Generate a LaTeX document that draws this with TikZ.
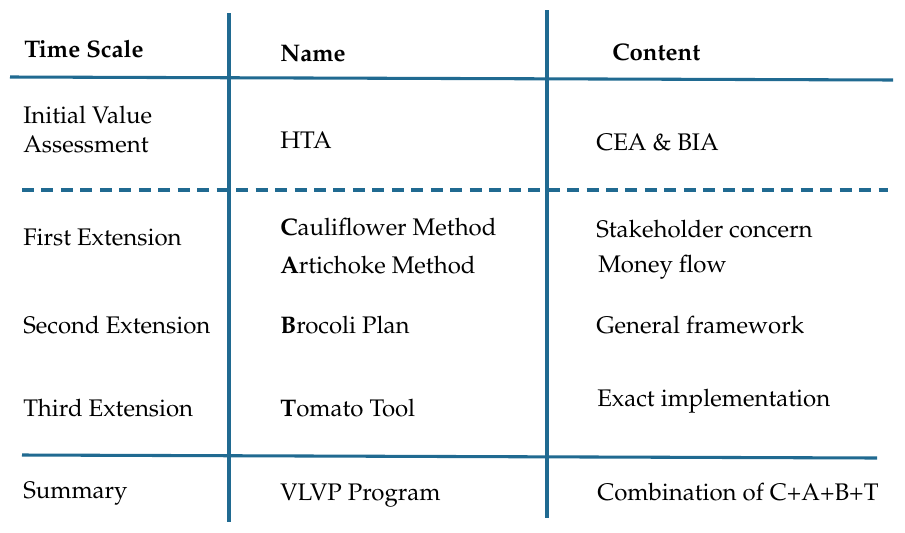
\documentclass[tikz,border=0pt]{standalone}
\usepackage[T1]{fontenc}
\usepackage{mathpazo}
\definecolor{rulecol}{RGB}{32,106,145}
\tikzset{
  rulestyle/.style={draw=rulecol,line width=2.3pt},
  dashrule/.style={rulestyle,dash pattern=on 9pt off 5.6pt},
  cell/.style={anchor=base west,inner sep=0pt,font=\fontsize{18}{21}\selectfont},
  head/.style={cell,font=\fontsize{18}{21}\selectfont\bfseries}
}
\begin{document}
\begin{tikzpicture}[x=0.75pt,y=-0.75pt]
\useasboundingbox (0,0) rectangle (905,532);
% rules
\draw[rulestyle] (10,77) -- (893,80);
\draw[dashrule] (22,190) -- (888,190);
\draw[rulestyle] (22,455) -- (877,458);
\draw[rulestyle] (229,13) -- (229,522);
\draw[rulestyle] (547,10) -- (547,518);
% header
\node[head] (h1) at (24,57) {Time Scale};
\node[head] (h2) at (280,61) {Name};
\node[head] (h3) at (612,60) {Content};
% row 1
\node[cell] (t1a) at (23,123) {Initial Value};
\node[cell] (t1b) at (23,152) {Assessment};
\node[cell] (n1) at (280,148) {HTA};
\node[cell] (c1) at (596,150) {CEA \& BIA};
% row 2
\node[cell] (t2) at (23,245) {First Extension};
\node[cell] (n2a) at (280,235) {\textbf{C}auliflower Method};
\node[cell] (n2b) at (280,273) {\textbf{A}rtichoke Method};
\node[cell] (c2a) at (596,237) {Stakeholder concern};
\node[cell] (c2b) at (598,272) {Money flow};
% row 3
\node[cell] (t3) at (23,333) {Second Extension};
\node[cell] (n3) at (280,333) {\textbf{B}rocoli Plan};
\node[cell] (c3) at (596,333) {General framework};
% row 4
\node[cell] (t4) at (23,416) {Third Extension};
\node[cell] (n4) at (280,416) {\textbf{T}omato Tool};
\node[cell] (c4) at (597,406) {Exact implementation};
% row 5
\node[cell] (t5) at (23,498) {Summary};
\node[cell] (n5) at (280,500) {VLVP Program};
\node[cell] (c5) at (597,500) {Combination of C+A+B+T};
\end{tikzpicture}
\end{document}
